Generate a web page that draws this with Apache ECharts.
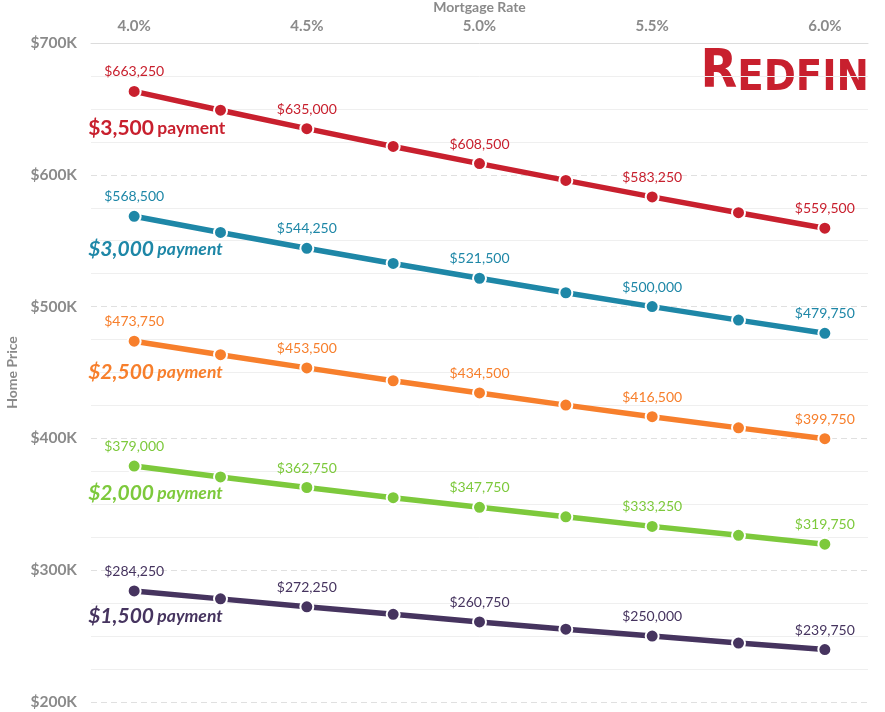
<!DOCTYPE html>
<html>
<head>
<meta charset="utf-8">
<script src="https://cdn.jsdelivr.net/npm/echarts@6/dist/echarts.min.js"></script>
<style>
html,body{margin:0;padding:0;background:#fff;}
#c{width:885px;height:712px;}
</style>
</head>
<body>
<div id="c"></div>
<script>
const rates = ['4.0%','4.25%','4.5%','4.75%','5.0%','5.25%','5.5%','5.75%','6.0%'];
const pay3500 = [663250, 649000, 635000, 621500, 608500, 595750, 583250, 571250, 559500];
const pay3000 = [568500, 556250, 544250, 532750, 521500, 510500, 500000, 489750, 479750];
const pay2500 = [473750, 463500, 453500, 443750, 434500, 425250, 416500, 408000, 399750];
const pay2000 = [379000, 370750, 362750, 355000, 347750, 340500, 333250, 326500, 319750];
const pay1500 = [284250, 278250, 272250, 266500, 260750, 255250, 250000, 244750, 239750];
const amounts = ['$3,500', '$3,000', '$2,500', '$2,000', '$1,500'];
const yTicks = [200000, 300000, 400000, 500000, 600000, 700000];

const allData = [pay3500, pay3000, pay2500, pay2000, pay1500];
const colors = ['#c8202e', '#1e87a7', '#f77f2c', '#7dc93c', '#46345f'];
const nameOffsets = [37, 33, 31, 27, 25];
const FONT = 'Lato';

const chart = echarts.init(document.getElementById('c'), null, {renderer: 'canvas'});

const series = allData.map((vals, si) => ({
  type: 'line',
  name: amounts[si] + ' payment',
  data: vals.map((v, i) => ({value: v, label: {show: i % 2 === 0}})),
  lineStyle: {color: colors[si], width: 5.5},
  itemStyle: {color: colors[si], borderColor: '#fff', borderWidth: 2},
  symbol: 'circle',
  symbolSize: 13,
  showSymbol: true,
  label: {
    position: 'top',
    distance: 5,
    color: colors[si],
    fontFamily: FONT,
    fontSize: 14,
    formatter: p => '$' + p.value.toLocaleString('en-US')
  },
  markPoint: {
    symbol: 'circle',
    symbolSize: 1,
    itemStyle: {color: 'rgba(0,0,0,0)'},
    silent: true,
    data: [{coord: [0, vals[0]], value: amounts[si]}],
    label: {
      show: true,
      position: 'inside',
      offset: [-46, nameOffsets[si]],
      align: 'left',
      verticalAlign: 'middle',
      formatter: '{a|' + amounts[si] + '} {b|payment}',
      rich: {
        a: {fontFamily: FONT, fontSize: 21, fontWeight: 'bold', fontStyle: si === 0 ? 'normal' : 'italic', color: colors[si]},
        b: {fontFamily: FONT, fontSize: 17.5, fontWeight: 'bold', fontStyle: si === 0 ? 'normal' : 'italic', color: colors[si]}
      }
    }
  }
}));

const option = {
  animation: false,
  backgroundColor: '#fff',
  grid: {left: 91, right: 17, top: 43, bottom: 10, containLabel: false, outerBoundsMode: 'none'},
  xAxis: {
    type: 'category',
    position: 'top',
    data: rates,
    boundaryGap: true,
    name: 'Mortgage Rate',
    nameLocation: 'middle',
    nameGap: 28,
    nameTextStyle: {color: '#8a8a8a', fontFamily: FONT, fontSize: 14, fontWeight: 'bold'},
    axisLine: {show: true, lineStyle: {color: '#dcdcdc', width: 1}},
    axisTick: {show: false},
    axisLabel: {interval: 1, color: '#8a8a8a', fontFamily: FONT, fontSize: 15, fontWeight: 'bold', margin: 9},
    splitLine: {show: false}
  },
  yAxis: {
    type: 'value',
    min: yTicks[0],
    max: yTicks[yTicks.length - 1],
    interval: 100000,
    name: 'Home Price',
    nameLocation: 'middle',
    nameGap: 69,
    nameTextStyle: {color: '#8a8a8a', fontFamily: FONT, fontSize: 14, fontWeight: 'bold'},
    axisLine: {show: false},
    axisTick: {show: false},
    axisLabel: {color: '#8a8a8a', fontFamily: FONT, fontSize: 15.5, fontWeight: 'bold', margin: 14,
      formatter: v => '$' + (v / 1000) + 'K'},
    splitLine: {show: true, lineStyle: {color: '#e0e0e0', type: [6, 4], width: 1}},
    minorTick: {show: false, splitNumber: 4},
    minorSplitLine: {show: true, lineStyle: {color: '#efefef', width: 1}}
  },
  graphic: [{
    type: 'text',
    right: 16,
    top: 47,
    scaleX: 0.9,
    style: {
      text: '{r|R}{e|EDFIN}',
      rich: {
        r: {fontFamily: 'DejaVu Sans', fontWeight: 'bold', fontSize: 53, fill: '#c8202e', verticalAlign: 'bottom'},
        e: {fontFamily: 'DejaVu Sans', fontWeight: 'bold', fontSize: 43, fill: '#c8202e', verticalAlign: 'bottom'}
      }
    }
  }],
  series: series
};
chart.setOption(option);
</script>
</body>
</html>
